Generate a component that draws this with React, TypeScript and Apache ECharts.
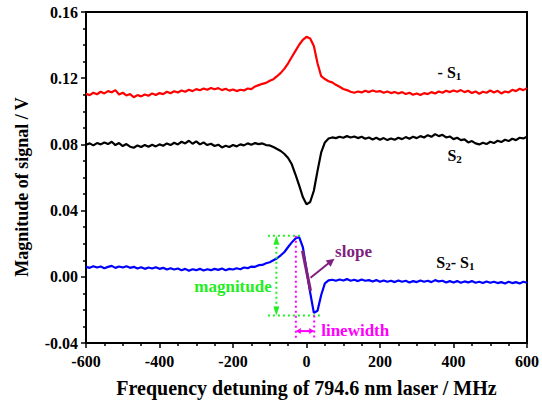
import { useEffect, useRef } from 'react';
import * as echarts from 'echarts';

// Frequency grid (MHz), 10 MHz step from -600 to 600
const freqs: number[] = Array.from({ length: 121 }, (_, i) => -600 + 10 * i);

// -S1 (red), V
const negS1: number[] = [
  0.1105, 0.1098, 0.1112, 0.1103, 0.1118, 0.1108, 0.1122, 0.1115, 0.1128, 0.1102,
  0.1112, 0.1096, 0.1104, 0.1085, 0.1098, 0.1090, 0.1102, 0.1094, 0.1108, 0.1099,
  0.1110, 0.1104, 0.1118, 0.1109, 0.1121, 0.1114, 0.1126, 0.1118, 0.1130, 0.1122,
  0.1134, 0.1127, 0.1138, 0.1130, 0.1141, 0.1133, 0.1140, 0.1128, 0.1136, 0.1125,
  0.1132, 0.1122, 0.1130, 0.1126, 0.1138, 0.1134, 0.1150, 0.1158, 0.1166, 0.1172,
  0.1185, 0.1194, 0.1212, 0.1232, 0.1258, 0.1290, 0.1328, 0.1365, 0.1402, 0.1432,
  0.1450, 0.1440, 0.1395, 0.1290, 0.1212, 0.1195, 0.1182, 0.1175, 0.1160, 0.1148,
  0.1135, 0.1128, 0.1118, 0.1112, 0.1120, 0.1114, 0.1124, 0.1116, 0.1126, 0.1118,
  0.1122, 0.1112, 0.1120, 0.1110, 0.1117, 0.1108, 0.1116, 0.1104, 0.1112, 0.1100,
  0.1108, 0.1098, 0.1110, 0.1104, 0.1116, 0.1108, 0.1120, 0.1112, 0.1124, 0.1116,
  0.1126, 0.1118, 0.1128, 0.1116, 0.1124, 0.1110, 0.1120, 0.1106, 0.1118, 0.1112,
  0.1126, 0.1114, 0.1124, 0.1108, 0.1120, 0.1114, 0.1130, 0.1122, 0.1136, 0.1128,
  0.1140,
];

// S2 (black), V
const s2: number[] = [
  0.0798, 0.0806, 0.0794, 0.0808, 0.0800, 0.0812, 0.0802, 0.0816, 0.0796, 0.0808,
  0.0790, 0.0802, 0.0786, 0.0780, 0.0794, 0.0784, 0.0796, 0.0786, 0.0798, 0.0788,
  0.0800, 0.0792, 0.0806, 0.0796, 0.0810, 0.0800, 0.0816, 0.0806, 0.0822, 0.0804,
  0.0818, 0.0800, 0.0812, 0.0796, 0.0804, 0.0790, 0.0798, 0.0782, 0.0792, 0.0784,
  0.0796, 0.0788, 0.0800, 0.0794, 0.0806, 0.0798, 0.0808, 0.0802, 0.0806, 0.0796,
  0.0794, 0.0784, 0.0772, 0.0760, 0.0742, 0.0718, 0.0680, 0.0618, 0.0552, 0.0482,
  0.0438, 0.0452, 0.0520, 0.0640, 0.0752, 0.0812, 0.0836, 0.0842, 0.0838, 0.0846,
  0.0840, 0.0850, 0.0842, 0.0848, 0.0838, 0.0846, 0.0834, 0.0842, 0.0830, 0.0840,
  0.0828, 0.0838, 0.0826, 0.0836, 0.0828, 0.0840, 0.0832, 0.0844, 0.0834, 0.0846,
  0.0838, 0.0850, 0.0842, 0.0856, 0.0846, 0.0862, 0.0850, 0.0858, 0.0842, 0.0848,
  0.0832, 0.0840, 0.0826, 0.0830, 0.0812, 0.0820, 0.0806, 0.0800, 0.0810, 0.0802,
  0.0816, 0.0808, 0.0822, 0.0814, 0.0828, 0.0820, 0.0834, 0.0826, 0.0840, 0.0836,
  0.0846,
];

// S2 - S1 (blue), V
const diff: number[] = [
  0.0060, 0.0054, 0.0064, 0.0056, 0.0062, 0.0052, 0.0060, 0.0066, 0.0054, 0.0062,
  0.0056, 0.0064, 0.0054, 0.0060, 0.0050, 0.0058, 0.0048, 0.0056, 0.0050, 0.0058,
  0.0048, 0.0054, 0.0044, 0.0052, 0.0044, 0.0050, 0.0040, 0.0048, 0.0036, 0.0046,
  0.0040, 0.0048, 0.0038, 0.0046, 0.0040, 0.0048, 0.0042, 0.0050, 0.0040, 0.0048,
  0.0044, 0.0052, 0.0046, 0.0056, 0.0052, 0.0062, 0.0060, 0.0070, 0.0072, 0.0082,
  0.0088, 0.0100, 0.0112, 0.0130, 0.0150, 0.0180, 0.0208, 0.0232, 0.0240, 0.0180,
  0.0045, -0.0095, -0.0218, -0.0205, -0.0110, -0.0040, -0.0022, -0.0018, -0.0024, -0.0016,
  -0.0022, -0.0014, -0.0024, -0.0018, -0.0026, -0.0016, -0.0024, -0.0020, -0.0028, -0.0020,
  -0.0030, -0.0022, -0.0030, -0.0024, -0.0032, -0.0022, -0.0030, -0.0024, -0.0034, -0.0026,
  -0.0032, -0.0022, -0.0030, -0.0024, -0.0032, -0.0020, -0.0028, -0.0024, -0.0034, -0.0026,
  -0.0034, -0.0026, -0.0036, -0.0028, -0.0034, -0.0026, -0.0036, -0.0030, -0.0038, -0.0028,
  -0.0036, -0.0030, -0.0038, -0.0032, -0.0040, -0.0030, -0.0038, -0.0032, -0.0040, -0.0030,
  -0.0036,
];

// Annotation anchors (data coordinates)
const magTopV = 0.0248;
const magBottomV = -0.0234;
const magArrowF = -82;
const magTopSpan = [-105, -11];
const magBottomSpan = [-105, 40];
const lwLeftF = -29;
const lwRightF = 21;
const lwBottomV = -0.0369;
const lwArrowV = -0.0328;
const slopeSeg = [[-11, 0.0157], [11, -0.0085]];
const slopeArrow = [[11, -0.0006], [76, 0.0109]];

const FONT = '"Liberation Serif", "Times New Roman", serif';
const GREEN = '#22ee22';
const MAGENTA = '#ff00ff';
const PURPLE = '#7f1f7f';

const toPairs = (ys: number[]) => freqs.map((f, i) => [f, ys[i]]);

export default function App() {
  const ref = useRef<HTMLDivElement>(null);
  useEffect(() => {
    const chart = echarts.init(ref.current!, null, { renderer: 'svg' });
    const axisCommon = {
      axisLine: { show: true, onZero: false, lineStyle: { color: '#000', width: 2 } },
      axisTick: { show: true, inside: false, length: 5, lineStyle: { color: '#000', width: 1.5 } },
      minorTick: { show: true, splitNumber: 4, length: 3, lineStyle: { color: '#000', width: 1.5 } },
      splitLine: { show: false },
      minorSplitLine: { show: false },
    };
    chart.setOption({
      animation: false,
      grid: {
        left: 86, right: 12, top: 12, bottom: 63,
        show: true, borderColor: '#000', borderWidth: 2,
      },
      xAxis: {
        type: 'value', min: -600, max: 600, interval: 200,
        ...axisCommon,
        axisLabel: { color: '#000', fontFamily: FONT, fontWeight: 'bold', fontSize: 16, margin: 10 },
        name: 'Frequency detuning of 794.6 nm laser / MHz',
        nameLocation: 'middle', nameGap: 35,
        nameTextStyle: { color: '#000', fontFamily: FONT, fontWeight: 'bold', fontSize: 20 },
      },
      yAxis: {
        type: 'value', min: -0.04, max: 0.16, interval: 0.04,
        ...axisCommon,
        axisLabel: {
          color: '#000', fontFamily: FONT, fontWeight: 'bold', fontSize: 16, margin: 8,
          formatter: (v: number) => v.toFixed(2),
        },
      },
      series: [
        { type: 'line', data: toPairs(negS1), showSymbol: false, lineStyle: { color: '#ff0000', width: 2.2 } },
        { type: 'line', data: toPairs(s2), showSymbol: false, lineStyle: { color: '#000000', width: 2.2 } },
        { type: 'line', data: toPairs(diff), showSymbol: false, lineStyle: { color: '#0000ff', width: 2.2 } },
      ],
    });

    const P = (f: number, v: number) => chart.convertToPixel({ gridIndex: 0 }, [f, v]) as number[];
    const head = (tip: number[], from: number[], len: number, half: number, color: string) => {
      const dx = tip[0] - from[0];
      const dy = tip[1] - from[1];
      const d = Math.hypot(dx, dy) || 1;
      const ux = dx / d, uy = dy / d;
      const bx = tip[0] - ux * len, by = tip[1] - uy * len;
      return {
        type: 'polygon',
        shape: { points: [tip, [bx - uy * half, by + ux * half], [bx + uy * half, by - ux * half]] },
        style: { fill: color },
        z: 10,
      };
    };
    const dotted = (a: number[], b: number[], color: string) => ({
      type: 'line',
      shape: { x1: a[0], y1: a[1], x2: b[0], y2: b[1] },
      style: { stroke: color, lineWidth: 2, lineDash: [2, 3] },
      z: 10,
    });
    const rich = {
      main: { fontSize: 16, fontWeight: 'bold', fontFamily: FONT, fill: '#000', lineHeight: 18 },
      s: { fontSize: 11, fontWeight: 'bold', fontFamily: FONT, fill: '#000', lineHeight: 18, padding: [7, 0, 0, 0] },
    };
    const label = (f: number, v: number, text: string) => {
      const p = P(f, v);
      return {
        type: 'text', x: p[0], y: p[1], z: 10,
        style: { text, align: 'center', verticalAlign: 'middle', rich },
      };
    };

    const gTopL = P(magTopSpan[0], magTopV), gTopR = P(magTopSpan[1], magTopV);
    const gBotL = P(magBottomSpan[0], magBottomV), gBotR = P(magBottomSpan[1], magBottomV);
    const gArrT = P(magArrowF, magTopV), gArrB = P(magArrowF, magBottomV);
    const mL1 = P(lwLeftF, magTopV), mL2 = P(lwLeftF, lwBottomV);
    const mR1 = P(lwRightF, magBottomV), mR2 = P(lwRightF, lwBottomV);
    const mA1 = P(lwLeftF, lwArrowV), mA2 = P(lwRightF, lwArrowV);
    const s1 = P(slopeSeg[0][0], slopeSeg[0][1]), s2p = P(slopeSeg[1][0], slopeSeg[1][1]);
    const a1 = P(slopeArrow[0][0], slopeArrow[0][1]), a2 = P(slopeArrow[1][0], slopeArrow[1][1]);
    const magText = P(-200, -0.006);
    const slopeText = P(128, 0.0151);
    const lwText = P(40, -0.0325);
    const yName = [22, 187];

    const graphic: any[] = [
      // magnitude
      dotted(gTopL, gTopR, GREEN),
      dotted(gBotL, gBotR, GREEN),
      dotted([gArrT[0], gArrT[1] + 6], [gArrB[0], gArrB[1] - 6], GREEN),
      head(gArrT, [gArrT[0], gArrT[1] + 10], 9, 3, GREEN),
      head(gArrB, [gArrB[0], gArrB[1] - 10], 9, 3, GREEN),
      {
        type: 'text', x: magText[0], y: magText[1], z: 10,
        style: { text: 'magnitude', fill: GREEN, font: `bold 17px ${FONT}`, align: 'center', verticalAlign: 'middle' },
      },
      // linewidth
      dotted(mL1, mL2, MAGENTA),
      dotted(mR1, mR2, MAGENTA),
      {
        type: 'line', z: 10,
        shape: { x1: mA1[0] + 4, y1: mA1[1], x2: mA2[0] - 4, y2: mA2[1] },
        style: { stroke: MAGENTA, lineWidth: 2 },
      },
      head(mA1, mA2, 5, 3, MAGENTA),
      head(mA2, mA1, 5, 3, MAGENTA),
      {
        type: 'text', x: lwText[0], y: lwText[1], z: 10,
        style: { text: 'linewidth', fill: MAGENTA, font: `bold 17px ${FONT}`, align: 'left', verticalAlign: 'middle' },
      },
      // slope
      {
        type: 'line', z: 11,
        shape: { x1: s1[0], y1: s1[1], x2: s2p[0], y2: s2p[1] },
        style: { stroke: PURPLE, lineWidth: 3 },
      },
      {
        type: 'line', z: 11,
        shape: { x1: a1[0], y1: a1[1], x2: a2[0] - 4, y2: a2[1] + 3 },
        style: { stroke: PURPLE, lineWidth: 2 },
      },
      head(a2, a1, 8, 4, PURPLE),
      {
        type: 'text', x: slopeText[0], y: slopeText[1], z: 10,
        style: { text: 'slope', fill: PURPLE, font: `bold 17px ${FONT}`, align: 'center', verticalAlign: 'middle' },
      },
      // series labels
      label(389, 0.1233, '{main|- S}{s|1}'),
      label(403, 0.0731, '{main|S}{s|2}'),
      label(405, 0.0085, '{main|S}{s|2}{main|- S}{s|1}'),
      // y axis name
      {
        type: 'text', x: yName[0], y: yName[1], rotation: Math.PI / 2, z: 10,
        style: {
          text: 'Magnitude of signal / V', fill: '#000', font: `bold 18px ${FONT}`,
          align: 'center', verticalAlign: 'middle',
        },
      },
    ];
    chart.setOption({ graphic });
    return () => chart.dispose();
  }, []);
  return <div ref={ref} style={{ position: 'absolute', left: 0, top: 0, width: 542, height: 406 }} />;
}
